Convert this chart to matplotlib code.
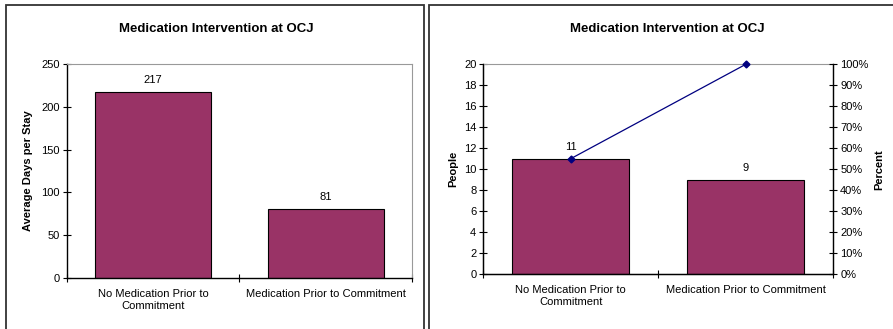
import matplotlib.pyplot as plt
from matplotlib.patches import Rectangle
from matplotlib.ticker import MultipleLocator, PercentFormatter

# values for the two charts
categorias = ['No Medication Prior to\nCommitment', 'Medication Prior to Commitment']
dias_medios = [217, 81]
pessoas = [11, 9]
percentual = [55, 100]

cor_barra = '#993366'
plt.rcParams['font.family'] = ['Liberation Sans', 'DejaVu Sans']

fig = plt.figure(figsize=(8.93, 3.29), dpi=100)
W, H = 893, 329

# panel frames
fig.patches.append(Rectangle((6 / W, -0.1), 418 / W, 1.1 - 5.5 / H,
                             transform=fig.transFigure, fill=False,
                             edgecolor='#333333', linewidth=1.3))
fig.patches.append(Rectangle((429 / W, -0.1), 470 / W, 1.1 - 5.5 / H,
                             transform=fig.transFigure, fill=False,
                             edgecolor='#333333', linewidth=1.3))


def base(ax, vals):
    x = range(len(categorias))
    bars = ax.bar(x, vals, width=0.67, color=cor_barra,
                  edgecolor='black', linewidth=0.8, zorder=2)
    ax.set_xlim(-0.5, 1.5)
    ax.set_xticks([-0.5, 0.5, 1.5])
    ax.set_xticklabels([])
    ax.set_xticks(list(x), minor=True)
    ax.set_xticklabels(categorias, minor=True, fontsize=8)
    ax.tick_params(axis='x', which='minor', length=0, pad=8)
    ax.tick_params(axis='x', which='major', direction='inout', length=6, width=0.8)
    ax.tick_params(axis='y', direction='inout', length=6, width=0.8,
                   labelsize=8, pad=2)
    for s in ['top', 'right']:
        ax.spines[s].set_color('#999999')
    for s in ['left', 'bottom']:
        ax.spines[s].set_linewidth(1.0)
    ax.spines['bottom'].set_zorder(3)
    for b, v in zip(bars, vals):
        ax.annotate(str(v), (b.get_x() + b.get_width() / 2, v),
                    xytext=(0, 5), textcoords='offset points',
                    ha='center', va='bottom', fontsize=8)
    return bars


# left chart
ax1 = fig.add_axes([66.7 / W, 1 - 278 / H, 345.3 / W, 214 / H])
base(ax1, dias_medios)
ax1.set_ylim(0, 250)
ax1.yaxis.set_major_locator(MultipleLocator(50))
ax1.set_ylabel('Average Days per Stay', fontsize=8, fontweight='bold', labelpad=6)
fig.text(216 / W, (H - 29) / H, 'Medication Intervention at OCJ',
         fontsize=9.5, fontweight='bold', ha='center', va='center')

# right chart
ax2 = fig.add_axes([483.3 / W, 1 - 274 / H, 350 / W, 209.7 / H])
base(ax2, pessoas)
ax2.set_ylim(0, 20)
ax2.yaxis.set_major_locator(MultipleLocator(2))
ax2.set_ylabel('People', fontsize=8, fontweight='bold', labelpad=4)
fig.text(667 / W, (H - 29) / H, 'Medication Intervention at OCJ',
         fontsize=9.5, fontweight='bold', ha='center', va='center')

ax3 = ax2.twinx()
ax3.plot([0, 1], percentual, color='#000080', linewidth=0.9,
         marker='D', markersize=3.5, zorder=4, clip_on=False)
ax3.set_ylim(0, 100)
ax3.yaxis.set_major_locator(MultipleLocator(10))
ax3.yaxis.set_major_formatter(PercentFormatter(decimals=0))
ax3.tick_params(axis='y', direction='inout', length=6, width=0.8,
                labelsize=8, pad=2)
ax3.spines['right'].set_color('black')
ax3.spines['right'].set_linewidth(1.0)
ax3.spines['top'].set_visible(False)
ax3.set_ylabel('Percent', fontsize=8, fontweight='bold', labelpad=4)

fig.savefig('out.png', dpi=100)
